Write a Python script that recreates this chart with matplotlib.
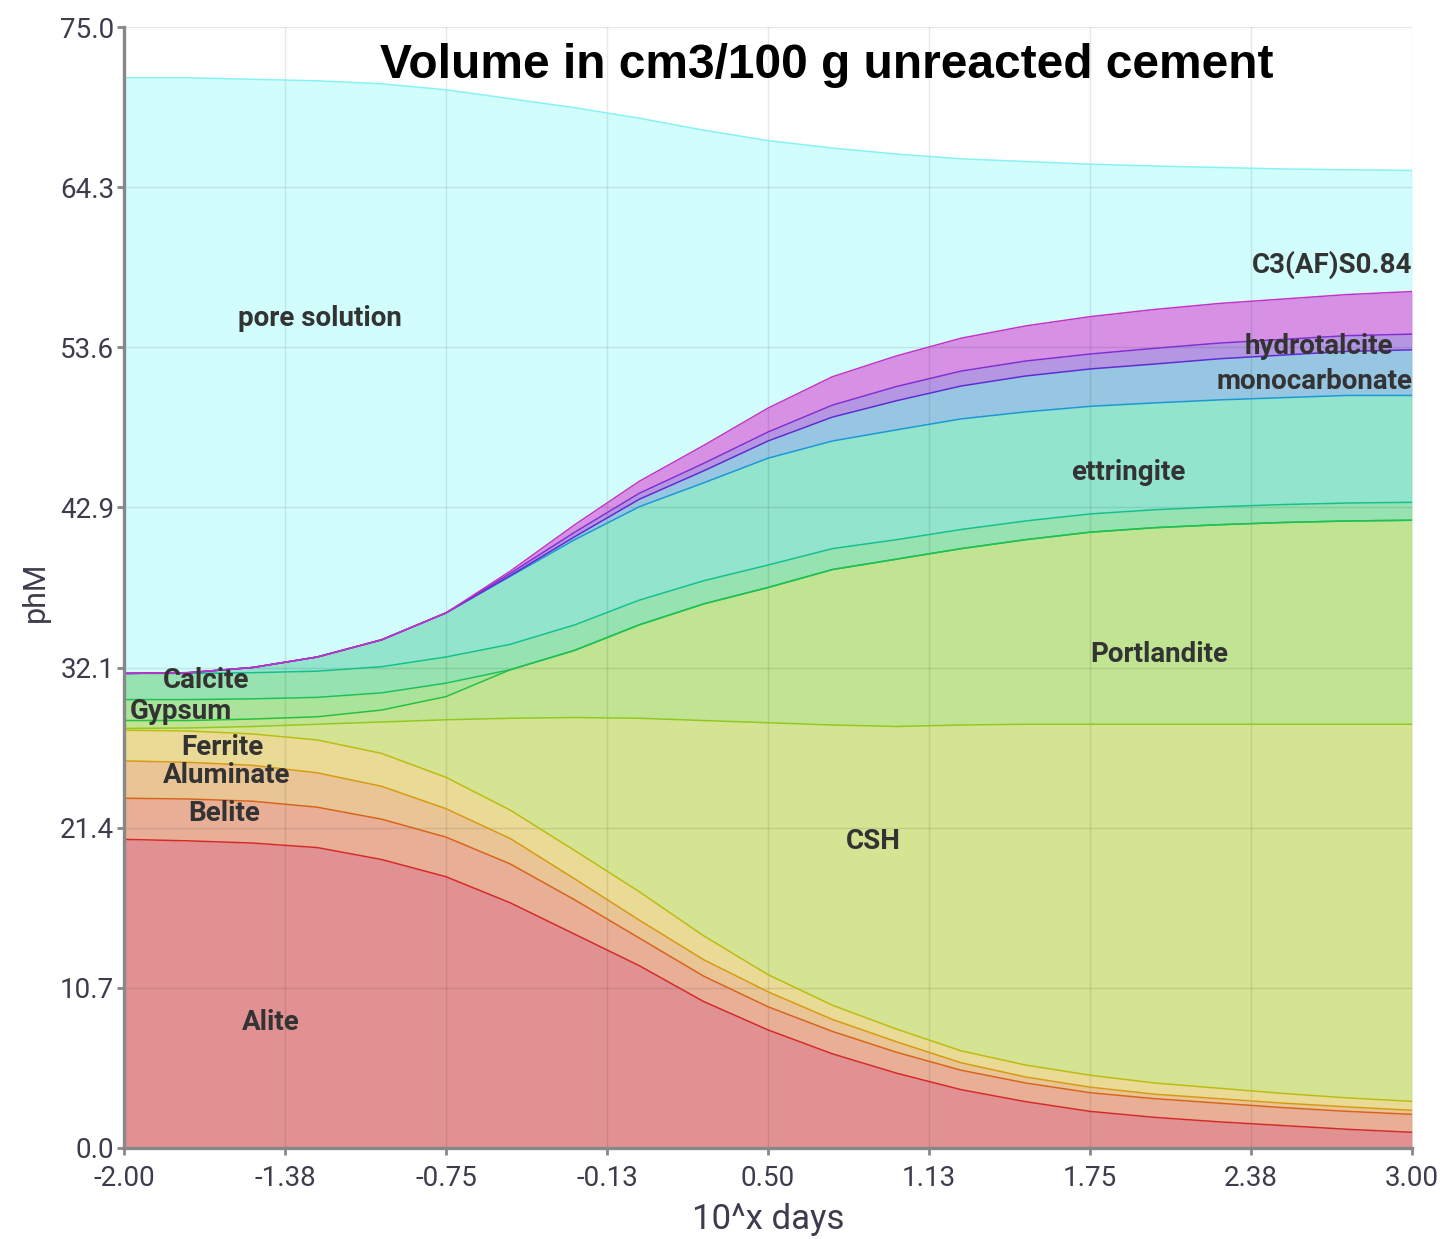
import numpy as np
import matplotlib
matplotlib.use("Agg")
import matplotlib.pyplot as plt

# ── Data: phase volumes (cm3 / 100 g unreacted cement) vs log10(time in days) ──
log_days = [-2.0, -1.75, -1.5, -1.25, -1.0, -0.75, -0.5, -0.25, 0.0, 0.25, 0.5,
            0.75, 1.0, 1.25, 1.5, 1.75, 2.0, 2.25, 2.5, 2.75, 3.0]

alite = [20.65, 20.55, 20.4, 20.1, 19.3, 18.15, 16.4, 14.3, 12.2, 9.8, 7.9,
         6.3, 5.0, 3.9, 3.1, 2.45, 2.05, 1.75, 1.5, 1.25, 1.05]
belite = [2.75, 2.8, 2.8, 2.7, 2.7, 2.65, 2.6, 2.3, 1.85, 1.7, 1.55,
          1.5, 1.4, 1.3, 1.25, 1.25, 1.25, 1.25, 1.2, 1.2, 1.2]
aluminate = [2.5, 2.45, 2.4, 2.3, 2.2, 1.9, 1.7, 1.4, 1.2, 1.1, 1.0,
             0.8, 0.7, 0.5, 0.4, 0.37, 0.3, 0.3, 0.3, 0.3, 0.27]
ferrite = [2.05, 2.1, 2.1, 2.2, 2.2, 2.1, 1.9, 1.9, 1.9, 1.6, 1.15,
           0.95, 0.85, 0.8, 0.8, 0.8, 0.75, 0.7, 0.65, 0.6, 0.6]
csh = [0.12, 0.2, 0.5, 1.05, 2.1, 3.85, 6.15, 8.9, 11.6, 14.4, 16.85,
       18.75, 20.25, 21.8, 22.8, 23.48, 24.0, 24.35, 24.7, 25.0, 25.23]
portlandite = [0.53, 0.5, 0.5, 0.5, 0.8, 1.55, 3.25, 4.5, 6.25, 7.8, 9.05,
               10.4, 11.2, 11.8, 12.35, 12.85, 13.15, 13.35, 13.5, 13.6, 13.65]
gypsum = [1.4, 1.4, 1.35, 1.3, 1.15, 0.9, 0.0, 0.0, 0.0, 0.0, 0.0,
          0.0, 0.0, 0.0, 0.0, 0.0, 0.0, 0.0, 0.0, 0.0, 0.0]
calcite = [1.75, 1.75, 1.75, 1.75, 1.75, 1.75, 1.7, 1.7, 1.65, 1.55, 1.5,
           1.4, 1.3, 1.28, 1.25, 1.22, 1.2, 1.2, 1.2, 1.2, 1.2]
ettringite = [0.0, 0.05, 0.35, 0.95, 1.8, 2.95, 4.55, 5.7, 6.25, 6.55, 7.15,
              7.2, 7.35, 7.4, 7.3, 7.2, 7.15, 7.15, 7.15, 7.2, 7.15]
monocarbonate = [0, 0, 0, 0, 0, 0, 0.05, 0.2, 0.5, 0.8, 1.15,
                 1.6, 1.95, 2.2, 2.4, 2.5, 2.6, 2.75, 2.85, 2.95, 3.05]
hydrotalcite = [0, 0, 0, 0, 0, 0, 0.15, 0.3, 0.4, 0.5, 0.6,
                0.8, 0.95, 1.0, 1.0, 1.0, 1.05, 1.05, 1.05, 1.05, 1.05]
c3afs = [0, 0, 0, 0, 0, 0, 0.15, 0.5, 0.8, 1.2, 1.6,
         1.9, 2.05, 2.2, 2.35, 2.5, 2.6, 2.65, 2.7, 2.75, 2.85]
pore_solution = [39.85, 39.8, 39.35, 38.55, 37.2, 35.0, 31.6, 27.9, 24.3, 21.1, 17.9,
                 15.3, 13.5, 12.0, 11.0, 10.2, 9.6, 9.1, 8.7, 8.35, 8.1]

x_ticks = np.linspace(-2, 3, 9)
x_tick_labels = ["-2.00", "-1.38", "-0.75", "-0.13", "0.50", "1.13", "1.75", "2.38", "3.00"]
y_ticks = np.linspace(0, 75, 8)

# (volumes, fill colour, boundary line colour), bottom to top
layers = [
    (alite,         "#e29192", "#d42a2a"),
    (belite,        "#e8af96", "#d8641c"),
    (aluminate,     "#e9c596", "#d89a12"),
    (ferrite,       "#e9da95", "#bcbc12"),
    (csh,           "#d5e492", "#92c820"),
    (portlandite,   "#c0e492", "#28c040"),
    (gypsum,        "#aae49a", "#20c058"),
    (calcite,       "#96e2b0", "#14c08c"),
    (ettringite,    "#92e4cc", "#1a9ad2"),
    (monocarbonate, "#96c6e2", "#5a30d2"),
    (hydrotalcite,  "#b496e2", "#8030d0"),
    (c3afs,         "#d690e4", "#c632c6"),
    (pore_solution, "#d2fdfd", "#86f2f2"),
]

# (text, x, y, ha)
labels = [
    ("pore solution", -1.24, 55.5, "center"),
    ("Calcite", -1.68, 31.3, "center"),
    ("Gypsum", -1.78, 29.2, "center"),
    ("Ferrite", -1.62, 26.8, "center"),
    ("Aluminate", -1.60, 24.95, "center"),
    ("Belite", -1.61, 22.4, "center"),
    ("Alite", -1.43, 8.4, "center"),
    ("CSH", 0.91, 20.5, "center"),
    ("Portlandite", 2.02, 33.0, "center"),
    ("ettringite", 1.90, 45.2, "center"),
    ("C3(AF)S0.84", 3.0, 59.1, "right"),
    ("hydrotalcite", 2.64, 53.6, "center"),
    ("monocarbonate", 2.24, 51.3, "left"),
]

W, H = 1445, 1239
fig = plt.figure(figsize=(W / 100, H / 100), dpi=100)
ax = fig.add_axes([124 / W, 1 - 1148 / H, (1412 - 124) / W, (1148 - 27) / H])

x = np.array(log_days)
lower = np.zeros_like(x)
for vol, fill, line in layers:
    upper = lower + np.array(vol)
    ax.fill_between(x, lower, upper, color=fill, lw=0, zorder=1)
    ax.plot(x, upper, color=line, lw=1.1, zorder=3)
    lower = upper

ax.set_xlim(-2, 3)
ax.set_ylim(0, 75)
ax.set_xticks(x_ticks)
ax.set_xticklabels(x_tick_labels)
ax.set_yticks(y_ticks)
ax.set_yticklabels([f"{v:.1f}" for v in y_ticks])

ax.grid(True, color="black", alpha=0.09, lw=1.0, zorder=2)
ax.set_axisbelow(False)

for side in ("top", "right"):
    ax.spines[side].set_visible(False)
for side in ("left", "bottom"):
    ax.spines[side].set_color("#888888")
    ax.spines[side].set_linewidth(2.4)
    ax.spines[side].set_zorder(5)

ax.tick_params(axis="both", direction="out", length=5, width=2, color="#888888",
               labelsize=20, labelcolor="#3c3c4c")
ax.tick_params(axis="x", pad=7)
ax.tick_params(axis="y", pad=2)
for lab in ax.get_xticklabels() + ax.get_yticklabels():
    lab.set_family(["Roboto", "DejaVu Sans"])

for text, tx, ty, ha in labels:
    t = ax.text(tx, ty, text, ha=ha, va="center", fontsize=20, color="#333333",
                family=["Roboto", "DejaVu Sans"], fontweight="bold", zorder=6)
    t.set_clip_on(True)

ax.text(0.73, 72.4, "Volume in cm3/100 g unreacted cement", ha="center", va="center",
        fontsize=34.5, fontweight="bold", color="black",
        family=["Liberation Sans", "DejaVu Sans"], zorder=6)

fig.text(35 / W, 1 - 592 / H, "phM", rotation=90, ha="center", va="center",
         fontsize=22, color="#3c3c4c", family=["Roboto", "DejaVu Sans"])
fig.text(768 / W, 1 - 1220 / H, "10^x days", ha="center", va="center",
         fontsize=25, color="#3c3c4c", family=["Roboto", "DejaVu Sans"])

fig.savefig("out.png", dpi=100)
